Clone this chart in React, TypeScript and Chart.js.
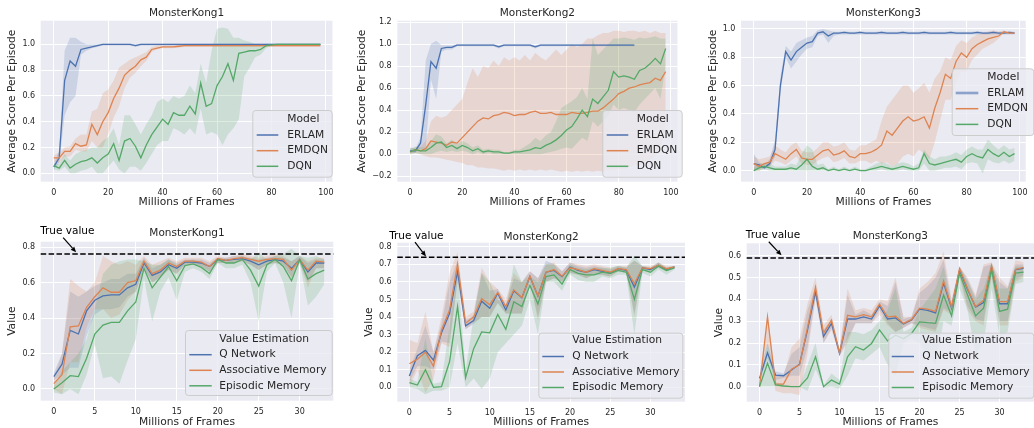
import { useEffect, useRef } from "react";
import { Chart, registerables } from "chart.js";

Chart.register(...registerables);

const FONT = "'DejaVu Sans', 'Liberation Sans', sans-serif";
const TEXT = "#262626";
const BLUE = "#4C72B0";
const ORANGE = "#DD8452";
const GREEN = "#55A868";
Chart.defaults.font.family = FONT;

// ---------------- data ----------------
const TOP_FRAMES = [0,2,4,6,8,10,12,14,16,18,20,22,24,26,28,30,32,34,36,38,40,42,44,46,48,50,52,54,56,58,60,62,64,66,68,70,72,74,76,78,80,82,84,86,88,90,92,94,96,98];
const BOTTOM_FRAMES = [0,1,2,3,4,5,6,7,8,9,10,11,12,13,14,15,16,17,18,19,20,21,22,23,24,25,26,27,28,29,30,31,32,33];
const TOP_X_TICKS = [0,20,40,60,80,100];
const BOTTOM_X_TICKS = [0,5,10,15,20,25,30];
const MK1_Y_TICKS = [0,0.2,0.4,0.6,0.8,1.0];
const MK2_Y_TICKS = [-0.2,0,0.2,0.4,0.6,0.8,1.0,1.2];
const MK3_Y_TICKS = [0,0.2,0.4,0.6,0.8,1.0];
const V1_Y_TICKS = [0,0.2,0.4,0.6,0.8];
const V2_Y_TICKS = [0,0.1,0.2,0.3,0.4,0.5,0.6,0.7,0.8];
const V3_Y_TICKS = [0,0.1,0.2,0.3,0.4,0.5,0.6];
const TRUE_VALUES = [0.76, 0.74, 0.59];
const MODELS = ["ERLAM", "EMDQN", "DQN"];
const ESTIMATORS = ["Q Network", "Associative Memory", "Episodic Memory"];

// MonsterKong1 (top)
const ERLAM1_MEAN = [0.05,0.12,0.72,0.87,0.83,0.96,0.97,0.98,0.99,1.0, 1.0,1.0,1.0,1.0,1.0,0.99,1.0,1.0,1.0,1.0, 1.0,1.0,1.0,1.0,1.0,1.0,1.0,1.0,1.0,1.0, 1.0,1.0,1.0,1.0,1.0,1.0,1.0,1.0,1.0,1.0, 1.0,1.0,1.0,1.0,1.0,1.0,1.0,1.0,1.0,1.0];
const ERLAM1_LO = [0.03,0.08,0.45,0.55,0.6,0.92,0.95,0.97,0.98,0.99, 0.99,0.99,0.99,0.99,0.99,0.98,0.99,0.99,0.99,0.99, 0.99,0.99,0.99,0.99,0.99,0.99,0.99,0.99,0.99,0.99, 0.99,0.99,0.99,0.99,0.99,0.99,0.99,0.99,0.99,0.99, 0.99,0.99,0.99,0.99,0.99,0.99,0.99,0.99,0.99,0.99];
const ERLAM1_HI = [0.07,0.18,0.95,1.05,1.05,1.02,1.0,1.0,1.0,1.005, 1.005,1.005,1.005,1.005,1.005,1.0,1.005,1.005,1.005,1.005, 1.005,1.005,1.005,1.005,1.005,1.005,1.005,1.005,1.005,1.005, 1.005,1.005,1.005,1.005,1.005,1.005,1.005,1.005,1.005,1.005, 1.005,1.005,1.005,1.005,1.005,1.005,1.005,1.005,1.005,1.005];
const EMDQN1_MEAN = [0.12,0.12,0.17,0.17,0.23,0.21,0.22,0.38,0.3,0.4, 0.47,0.58,0.66,0.76,0.8,0.83,0.88,0.9,0.96,0.97, 0.98,0.98,0.98,0.985,0.99,0.99,0.99,0.99,0.99,0.99, 0.99,0.99,0.99,0.99,0.99,0.99,0.99,0.99,0.99,0.99, 0.99,0.99,0.99,0.99,0.99,0.99,0.99,0.99,0.99,0.99];
const EMDQN1_LO = [0.09,0.08,0.13,0.13,0.18,0.17,0.17,0.25,0.2,0.2, 0.3,0.43,0.52,0.66,0.74,0.78,0.83,0.87,0.94,0.96, 0.97,0.97,0.97,0.975,0.98,0.98,0.98,0.98,0.98,0.98, 0.98,0.98,0.98,0.98,0.98,0.98,0.98,0.98,0.98,0.98, 0.98,0.98,0.98,0.98,0.98,0.98,0.98,0.98,0.98,0.98];
const EMDQN1_HI = [0.14,0.16,0.2,0.21,0.27,0.3,0.3,0.48,0.5,0.62, 0.65,0.72,0.82,0.85,0.88,0.9,0.92,0.94,0.98,0.99, 0.99,0.99,0.99,0.995,1.0,1.0,1.0,1.0,1.0,1.0, 1.0,1.0,1.0,1.0,1.0,1.0,1.0,1.0,1.0,1.0, 1.0,1.0,1.0,1.0,1.0,1.0,1.0,1.0,1.0,1.0];
const DQN1_MEAN = [0.06,0.04,0.1,0.04,0.07,0.09,0.1,0.12,0.08,0.12, 0.15,0.23,0.1,0.25,0.27,0.21,0.12,0.22,0.3,0.36, 0.42,0.38,0.47,0.45,0.45,0.52,0.46,0.7,0.52,0.54, 0.68,0.75,0.85,0.72,0.93,0.94,0.95,0.95,0.96,0.99, 0.995,1.0,1.0,1.0,1.0,1.0,1.0,1.0,1.0,1.0];
const DQN1_LO = [0.03,0.02,0.05,0.0,0.0,0.02,0.03,0.05,0.0,0.0, 0.05,0.1,0.03,0.0,0.05,0.05,0.02,0.08,0.15,0.22, 0.25,0.25,0.35,0.33,0.3,0.35,0.3,0.5,0.3,0.32, 0.3,0.22,0.3,0.35,0.42,0.75,0.82,0.9,0.92,0.97, 0.99,0.995,0.995,0.995,0.995,0.995,0.995,0.995,0.995,0.995];
const DQN1_HI = [0.08,0.07,0.15,0.1,0.15,0.17,0.18,0.2,0.2,0.25, 0.28,0.35,0.22,0.45,0.45,0.38,0.3,0.38,0.45,0.55, 0.58,0.55,0.6,0.58,0.6,0.68,0.62,0.85,0.7,0.95, 1.12,1.13,1.12,1.05,1.05,1.03,1.02,1.0,1.0,1.005, 1.005,1.005,1.005,1.005,1.005,1.005,1.005,1.005,1.005,1.005];

// MonsterKong2 (top)
const ERLAM2_MEAN = [0.03,0.03,0.1,0.45,0.84,0.78,0.96,0.97,0.97,0.99, 0.99,0.99,0.99,0.99,0.99,0.99,0.99,0.975,0.99,0.99, 0.99,0.99,0.99,0.99,0.975,0.99,0.99,0.99,0.99,0.99, 0.99,0.99,0.99,0.99,0.99,0.99,0.99,0.99,0.99,0.99, 0.99,0.99,0.99,0.99,null,null,null,null,null,null];
const ERLAM2_LO = [0.01,0.01,0.05,0.05,0.68,0.5,0.93,0.95,0.95,0.98, 0.98,0.98,0.98,0.98,0.98,0.98,0.98,0.96,0.98,0.98, 0.98,0.98,0.98,0.98,0.96,0.98,0.98,0.98,0.98,0.98, 0.98,0.98,0.98,0.98,0.98,0.98,0.98,0.98,0.98,0.98, 0.98,0.98,0.98,0.98,null,null,null,null,null,null];
const ERLAM2_HI = [0.06,0.05,0.15,0.85,1.0,1.03,0.99,0.99,0.99,1.0, 1.0,1.0,1.0,1.0,1.0,1.0,1.0,0.99,1.0,1.0, 1.0,1.0,1.0,1.0,0.99,1.0,1.0,1.0,1.0,1.0, 1.0,1.0,1.0,1.0,1.0,1.0,1.0,1.0,1.0,1.0, 1.0,1.0,1.0,1.0,null,null,null,null,null,null];
const EMDQN2_MEAN = [0.02,0.04,0.03,0.05,0.12,0.11,0.1,0.08,0.11,0.1, 0.15,0.2,0.25,0.3,0.33,0.32,0.35,0.36,0.38,0.37, 0.35,0.36,0.36,0.38,0.39,0.37,0.37,0.38,0.36,0.36, 0.36,0.38,0.37,0.37,0.38,0.39,0.39,0.42,0.46,0.5, 0.55,0.57,0.6,0.61,0.63,0.64,0.65,0.69,0.67,0.75];
const EMDQN2_LO = [0.0,0.01,0.0,-0.02,-0.03,-0.03,-0.04,-0.05,-0.06,-0.07, -0.08,-0.1,-0.1,-0.12,-0.12,-0.13,-0.13,-0.14,-0.15,-0.14, -0.15,-0.14,-0.15,-0.14,-0.15,-0.14,-0.15,-0.14,-0.15,-0.16, -0.15,-0.16,-0.15,-0.16,-0.15,-0.16,-0.15,-0.16,-0.14,-0.15, -0.13,-0.14,-0.12,-0.1,-0.1,-0.08,-0.05,-0.02,0.05,0.25];
const EMDQN2_HI = [0.05,0.06,0.07,0.12,0.3,0.35,0.33,0.35,0.4,0.45, 0.5,0.65,0.78,0.7,0.8,0.78,0.85,0.8,0.88,0.85, 0.88,0.85,0.9,0.85,0.92,0.88,0.85,0.9,0.95,0.9, 0.95,1.0,0.97,1.0,1.05,1.05,1.08,1.1,1.1,1.12, 1.12,1.11,1.12,1.12,1.11,1.12,1.1,1.12,1.1,1.1];
const DQN2_MEAN = [0.02,0.04,0.03,0.03,0.06,0.1,0.11,0.06,0.08,0.05, 0.08,0.06,0.03,0.05,0.02,0.03,0.02,0.02,0.01,0.01, 0.02,0.02,0.03,0.04,0.06,0.05,0.08,0.1,0.13,0.17, 0.22,0.25,0.32,0.4,0.34,0.5,0.46,0.52,0.58,0.75, 0.7,0.71,0.7,0.68,0.76,0.78,0.82,0.87,0.82,0.96];
const DQN2_LO = [0.0,0.01,0.0,0.0,0.0,0.02,0.03,0.02,0.03,0.02, 0.03,0.02,0.0,0.02,0.0,0.01,0.0,0.0,0.0,0.0, 0.0,0.0,0.0,0.0,0.0,0.0,0.01,0.02,0.03,0.05, 0.06,0.05,0.1,0.15,0.12,0.3,0.25,0.3,0.35,0.45, 0.4,0.42,0.4,0.38,0.45,0.5,0.55,0.6,0.5,0.8];
const DQN2_HI = [0.05,0.07,0.06,0.06,0.12,0.18,0.16,0.1,0.13,0.09, 0.12,0.1,0.06,0.08,0.04,0.05,0.04,0.04,0.02,0.02, 0.04,0.04,0.07,0.1,0.15,0.12,0.17,0.2,0.3,0.42, 0.45,0.48,0.52,0.6,0.5,1.05,0.9,0.95,1.0,1.05, 1.05,1.06,1.05,1.04,1.06,1.05,1.06,1.07,1.05,1.05];

// MonsterKong3 (top)
const ERLAM3_MEAN = [0.05,0.04,0.02,0.05,0.15,0.6,0.84,0.78,0.84,0.87, 0.9,0.91,0.97,0.98,0.95,0.97, 0.97,0.975,0.97,0.97,0.975,0.97,0.97,0.97,0.975,0.97, 0.97,0.97,0.975,0.97,0.97,0.97,0.975,0.97,0.97,0.97, 0.97,0.975,0.97,0.97,0.97,0.97,0.975,0.97,0.97,0.975, 0.97,0.97,0.975,0.97];
const ERLAM3_LO = [0.0,0.02,0.01,0.03,0.1,0.55,0.8,0.72,0.77,0.82, 0.86,0.87,0.95,0.96,0.9,0.95, 0.96,0.96,0.96,0.96,0.96,0.96,0.96,0.96,0.96,0.96, 0.96,0.96,0.96,0.96,0.96,0.96,0.96,0.96,0.96,0.96, 0.96,0.96,0.96,0.96,0.96,0.96,0.96,0.96,0.96,0.96, 0.96,0.96,0.96,0.96];
const ERLAM3_HI = [0.12,0.06,0.04,0.08,0.22,0.66,0.88,0.84,0.9,0.92, 0.94,0.95,0.99,1.0,0.99,0.98, 0.98,0.985,0.98,0.98,0.985,0.98,0.98,0.98,0.985,0.98, 0.98,0.98,0.985,0.98,0.98,0.98,0.985,0.98,0.98,0.98, 0.98,0.985,0.98,0.98,0.98,0.98,0.985,0.98,0.98,0.985, 0.98,0.98,0.985,0.98];
const EMDQN3_MEAN = [0.05,0.03,0.05,0.06,0.12,0.1,0.08,0.12,0.15,0.09, 0.08,0.08,0.11,0.14,0.15,0.11,0.12,0.14,0.1,0.09, 0.12,0.12,0.13,0.15,0.18,0.28,0.25,0.3,0.35,0.38, 0.35,0.36,0.38,0.3,0.44,0.55,0.68,0.65,0.77,0.83, 0.8,0.86,0.89,0.91,0.93,0.94,0.95,0.98,0.97,0.97];
const EMDQN3_LO = [0.0,0.0,0.02,0.03,0.07,0.06,0.04,0.07,0.1,0.05, 0.04,0.04,0.07,0.09,0.1,0.06,0.07,0.09,0.05,0.05, 0.07,0.07,0.05,0.07,0.05,0.06,0.03,0.05,0.1,0.12, 0.1,0.15,0.12,0.08,0.2,0.35,0.5,0.5,0.62,0.7, 0.7,0.78,0.82,0.86,0.88,0.9,0.93,0.97,0.965,0.965];
const EMDQN3_HI = [0.1,0.08,0.09,0.1,0.18,0.15,0.13,0.18,0.2,0.14, 0.13,0.13,0.16,0.2,0.2,0.17,0.18,0.2,0.15,0.14, 0.18,0.18,0.2,0.22,0.35,0.45,0.5,0.55,0.6,0.6, 0.55,0.58,0.62,0.55,0.65,0.7,0.8,0.78,0.88,0.92, 0.9,0.94,0.96,0.97,0.98,0.99,0.98,0.99,0.975,0.975];
const DQN3_MEAN = [0.0,0.02,0.03,0.02,0.01,0.01,0.01,0.02,0.01,0.04, 0.08,0.03,0.01,0.02,0.0,0.01,0.0,0.01,0.0,0.01, 0.0,0.0,0.01,0.02,0.03,0.02,0.01,0.02,0.03,0.02, 0.01,0.02,0.12,0.05,0.04,0.05,0.06,0.07,0.08,0.06, 0.1,0.12,0.1,0.09,0.15,0.12,0.1,0.13,0.1,0.12];
const DQN3_LO = [0.0,0.0,0.01,0.0,0.0,0.0,0.0,0.0,0.0,0.0, 0.0,0.0,0.0,0.0,0.0,0.0,0.0,0.0,0.0,0.0, 0.0,0.0,0.0,0.0,0.01,0.0,0.0,0.0,0.01,0.0, 0.0,0.0,0.05,0.0,0.0,0.01,0.02,0.02,0.03,0.01, 0.05,0.06,0.05,-0.02,0.08,0.06,0.05,0.07,0.05,0.07];
const DQN3_HI = [0.02,0.05,0.05,0.05,0.03,0.03,0.03,0.05,0.04,0.12, 0.18,0.15,0.04,0.05,0.01,0.03,0.01,0.03,0.01,0.03, 0.01,0.01,0.03,0.05,0.06,0.05,0.03,0.05,0.06,0.05, 0.03,0.05,0.15,0.1,0.08,0.1,0.1,0.11,0.13,0.11, 0.15,0.17,0.15,0.15,0.22,0.18,0.15,0.18,0.15,0.16];

// MonsterKong1 (bottom, value estimation)
const Q1_MEAN = [0.07,0.14,0.33,0.31,0.44,0.5,0.525,0.53,0.53,0.57,0.59,0.71,0.64,0.66,0.70,0.68,0.715,0.715,0.71,0.69,0.73,0.725,0.73,0.735,0.72,0.70,0.72,0.73,0.72,0.68,0.73,0.66,0.71,0.71];
const Q1_LO = [0.05,0.08,0.12,0.12,0.3,0.42,0.45,0.45,0.46,0.52,0.55,0.68,0.6,0.63,0.67,0.65,0.7,0.7,0.69,0.66,0.71,0.71,0.71,0.72,0.7,0.67,0.7,0.71,0.7,0.63,0.71,0.6,0.68,0.68];
const Q1_HI = [0.09,0.2,0.55,0.52,0.55,0.58,0.6,0.62,0.62,0.65,0.65,0.74,0.68,0.7,0.73,0.71,0.73,0.73,0.73,0.71,0.74,0.74,0.75,0.75,0.74,0.73,0.74,0.75,0.74,0.72,0.75,0.71,0.73,0.73];
const AM1_MEAN = [0.03,0.08,0.35,0.355,0.46,0.52,0.57,0.545,0.545,0.6,0.61,0.72,0.65,0.67,0.71,0.69,0.72,0.72,0.715,0.69,0.735,0.725,0.735,0.74,0.73,0.72,0.73,0.735,0.73,0.67,0.73,0.67,0.72,0.715];
const AM1_LO = [0.0,-0.03,0.15,0.15,0.35,0.45,0.45,0.4,0.42,0.5,0.55,0.68,0.6,0.63,0.67,0.65,0.7,0.7,0.69,0.66,0.71,0.71,0.71,0.72,0.7,0.67,0.7,0.71,0.7,0.62,0.71,0.57,0.68,0.68];
const AM1_HI = [0.06,0.2,0.62,0.58,0.55,0.6,0.75,0.72,0.7,0.72,0.7,0.75,0.7,0.72,0.74,0.72,0.74,0.74,0.74,0.72,0.75,0.74,0.75,0.76,0.75,0.74,0.75,0.76,0.75,0.72,0.75,0.72,0.74,0.74];
const EM1_MEAN = [0.0,0.035,0.075,0.07,0.173,0.31,0.36,0.375,0.375,0.44,0.49,0.68,0.57,0.63,0.69,0.61,0.695,0.705,0.685,0.65,0.73,0.71,0.71,0.73,0.67,0.58,0.70,0.73,0.69,0.61,0.73,0.62,0.65,0.67];
const EM1_LO = [-0.02,-0.03,0.0,-0.03,0.08,0.25,0.06,0.07,0.03,0.16,0.28,0.62,0.38,0.55,0.63,0.5,0.66,0.68,0.66,0.62,0.71,0.68,0.68,0.7,0.6,0.38,0.66,0.71,0.6,0.4,0.71,0.47,0.52,0.59];
const EM1_HI = [0.02,0.1,0.15,0.2,0.28,0.45,0.65,0.7,0.72,0.73,0.73,0.72,0.7,0.7,0.73,0.7,0.72,0.73,0.71,0.68,0.74,0.73,0.73,0.75,0.73,0.77,0.73,0.75,0.76,0.79,0.75,0.74,0.75,0.73];

// MonsterKong2 (bottom)
const Q2_MEAN = [0.064,0.18,0.21,0.155,0.31,0.42,0.66,0.35,0.38,0.49,0.45,0.535,0.44,0.55,0.51,0.63,0.52,0.655,0.665,0.63,0.685,0.665,0.655,0.67,0.66,0.65,0.675,0.665,0.57,0.68,0.67,0.695,0.67,0.685];
const Q2_LO = [0.03,0.12,0.12,0.1,0.26,0.25,0.6,0.33,0.36,0.4,0.4,0.48,0.42,0.42,0.42,0.6,0.4,0.6,0.62,0.6,0.65,0.64,0.62,0.64,0.64,0.63,0.66,0.65,0.42,0.67,0.66,0.68,0.66,0.68];
const Q2_HI = [0.1,0.22,0.35,0.2,0.36,0.6,0.72,0.38,0.41,0.65,0.55,0.56,0.47,0.62,0.6,0.66,0.62,0.72,0.7,0.66,0.71,0.69,0.68,0.69,0.68,0.67,0.69,0.68,0.72,0.69,0.68,0.71,0.68,0.69];
const AM2_MEAN = [0.134,0.16,0.2,0.12,0.325,0.44,0.70,0.365,0.40,0.505,0.47,0.54,0.46,0.555,0.51,0.633,0.52,0.655,0.67,0.633,0.68,0.67,0.655,0.675,0.665,0.655,0.675,0.67,0.59,0.68,0.675,0.695,0.675,0.685];
const AM2_LO = [0.0,0.1,-0.03,0.05,0.25,0.23,0.62,0.33,0.37,0.4,0.4,0.48,0.42,0.42,0.42,0.6,0.38,0.6,0.62,0.6,0.65,0.64,0.62,0.64,0.64,0.63,0.66,0.65,0.4,0.67,0.66,0.68,0.66,0.68];
const AM2_HI = [0.27,0.25,0.43,0.2,0.4,0.65,0.77,0.4,0.43,0.68,0.6,0.56,0.5,0.65,0.6,0.66,0.62,0.7,0.71,0.66,0.71,0.7,0.69,0.7,0.69,0.68,0.69,0.69,0.72,0.69,0.69,0.71,0.69,0.69];
const EM2_MEAN = [0.026,0.013,0.1,0.0,0.004,0.145,0.46,0.055,0.22,0.315,0.31,0.415,0.33,0.487,0.46,0.58,0.474,0.63,0.64,0.587,0.67,0.648,0.64,0.64,0.655,0.648,0.665,0.655,0.5,0.67,0.655,0.69,0.665,0.68];
const EM2_LO = [0.0,-0.01,-0.04,-0.02,-0.02,0.0,0.25,0.0,0.05,-0.01,0.05,0.2,0.25,0.3,0.35,0.5,0.3,0.6,0.6,0.55,0.64,0.61,0.6,0.6,0.63,0.62,0.64,0.64,0.3,0.65,0.63,0.67,0.64,0.67];
const EM2_HI = [0.05,0.03,0.28,0.02,0.03,0.35,0.65,0.1,0.4,0.65,0.6,0.5,0.45,0.7,0.6,0.63,0.6,0.7,0.7,0.63,0.7,0.68,0.67,0.68,0.68,0.68,0.69,0.68,0.75,0.69,0.68,0.71,0.68,0.69];

// MonsterKong3 (bottom)
const Q3_MEAN = [0.038,0.155,0.053,0.05,0.076,0.103,0.26,0.435,0.23,0.29,0.153,0.31,0.31,0.32,0.31,0.37,0.31,0.315,0.287,0.305,0.355,0.35,0.338,0.475,0.36,0.534,0.445,0.365,0.385,0.547,0.38,0.38,0.537,0.542];
const Q3_LO = [0.02,0.13,0.03,0.04,0.05,0.05,0.18,0.41,0.2,0.27,0.14,0.22,0.29,0.29,0.29,0.35,0.29,0.25,0.27,0.29,0.28,0.27,0.26,0.36,0.34,0.51,0.37,0.31,0.3,0.51,0.3,0.3,0.49,0.51];
const Q3_HI = [0.06,0.2,0.07,0.06,0.15,0.18,0.35,0.46,0.26,0.31,0.17,0.42,0.33,0.35,0.33,0.39,0.37,0.48,0.31,0.32,0.43,0.46,0.5,0.58,0.39,0.55,0.49,0.41,0.55,0.56,0.48,0.45,0.56,0.56];
const AM3_MEAN = [0.0,0.32,0.012,0.012,0.08,0.1,0.27,0.455,0.245,0.305,0.155,0.327,0.32,0.33,0.32,0.378,0.32,0.323,0.29,0.308,0.36,0.355,0.345,0.485,0.366,0.542,0.45,0.366,0.396,0.553,0.39,0.39,0.537,0.547];
const AM3_LO = [0.0,0.2,-0.02,-0.03,-0.03,-0.04,0.15,0.4,0.2,0.26,0.14,0.2,0.29,0.29,0.29,0.33,0.28,0.25,0.27,0.29,0.27,0.26,0.25,0.35,0.33,0.5,0.35,0.3,0.28,0.5,0.28,0.28,0.48,0.5];
const AM3_HI = [0.0,0.33,0.05,0.05,0.18,0.22,0.38,0.5,0.28,0.33,0.17,0.45,0.35,0.36,0.35,0.4,0.39,0.5,0.32,0.32,0.45,0.48,0.52,0.62,0.4,0.55,0.5,0.42,0.56,0.57,0.5,0.46,0.58,0.57];
const EM3_MEAN = [0.0,0.107,0.008,0.003,0.0,0.0,0.04,0.137,0.0,0.03,0.012,0.137,0.183,0.168,0.198,0.26,0.21,0.236,0.22,0.244,0.297,0.293,0.29,0.42,0.324,0.52,0.42,0.324,0.36,0.535,0.345,0.355,0.52,0.525];
const EM3_LO = [0.0,0.0,0.0,0.0,0.0,0.0,-0.02,0.08,-0.005,0.0,-0.01,0.05,0.13,0.12,0.15,0.18,0.1,0.05,0.2,0.22,0.2,0.15,0.1,0.3,0.28,0.45,0.35,0.15,0.2,0.45,0.23,0.25,0.47,0.48];
const EM3_HI = [0.0,0.2,0.02,0.01,0.0,0.0,0.1,0.2,0.005,0.06,0.03,0.25,0.25,0.24,0.26,0.3,0.35,0.45,0.25,0.27,0.35,0.4,0.45,0.55,0.36,0.55,0.48,0.4,0.45,0.57,0.45,0.45,0.55,0.55];

// ---------------- panel layout ----------------
type Series = { label: string; color: string; mean: (number | null)[]; lo: (number | null)[]; hi: (number | null)[] };
type LegendSpec = { title: string; box: number[]; handle: number[]; textX: number; titleY: number; rows: number[]; handleWidths?: number[]; handleAlpha?: number[] };
type Annot = { text: number[]; tail: number[]; tip: number[] };
type PanelSpec = {
  title: string; frames: number[]; xTicks: number[]; yTicks: number[];
  xRange: number[]; yRange: number[]; yLabel: string; series: Series[];
  canvas: number[]; area: number[]; titlePad: number[]; yTitlePad: number; xTitlePad: number;
  legend: LegendSpec; trueValue?: number; annot?: Annot;
};

const top3 = (a: string, b: string, c: string) => [a, b, c];
const COLORS = top3(BLUE, ORANGE, GREEN);
const mk = (labels: string[], m: any[][]): Series[] =>
  labels.map((label, i) => ({ label, color: COLORS[i], mean: m[i][0], lo: m[i][1], hi: m[i][2] }));

const TOP_LEGEND_ROWS = [135, 150.7, 166.3];
const BOT_LEGEND_ROWS_1 = [142.7, 158.3, 173.8];
const BOT_LEGEND_ROWS_2 = [144.5, 160, 175.5];

const PANELS: PanelSpec[] = [
  {
    title: "MonsterKong1", frames: TOP_FRAMES, xTicks: TOP_X_TICKS, yTicks: MK1_Y_TICKS,
    xRange: [-4.8, 102.4], yRange: [-0.065, 1.183], yLabel: "Average Score Per Episode",
    series: mk(MODELS, [[ERLAM1_MEAN, ERLAM1_LO, ERLAM1_HI], [EMDQN1_MEAN, EMDQN1_LO, EMDQN1_HI], [DQN1_MEAN, DQN1_LO, DQN1_HI]]),
    canvas: [0, 0, 340, 212], area: [40.7, 333.3, 181.7], titlePad: [8.05, 2.15], yTitlePad: 7.35, xTitlePad: 3.95,
    legend: { title: "Model", box: [252.3, 110, 79.4, 66.7], handle: [256.7, 278.3], textX: 287.3, titleY: 119.3, rows: TOP_LEGEND_ROWS },
  },
  {
    title: "MonsterKong2", frames: TOP_FRAMES, xTicks: TOP_X_TICKS, yTicks: MK2_Y_TICKS,
    xRange: [-4.9, 102.5], yRange: [-0.25, 1.212], yLabel: "Average Score Per Episode",
    series: mk(MODELS, [[ERLAM2_MEAN, ERLAM2_LO, ERLAM2_HI], [EMDQN2_MEAN, EMDQN2_LO, EMDQN2_HI], [DQN2_MEAN, DQN2_LO, DQN2_HI]]),
    canvas: [340, 0, 345, 212], area: [57.3, 343.4, 181.7], titlePad: [8.05, 2.15], yTitlePad: 17.35, xTitlePad: 3.95,
    legend: { title: "Model", box: [262.3, 110, 79.4, 66.7], handle: [266.7, 288.3], textX: 296.7, titleY: 119.3, rows: TOP_LEGEND_ROWS },
  },
  {
    title: "MonsterKong3", frames: TOP_FRAMES, xTicks: TOP_X_TICKS, yTicks: MK3_Y_TICKS,
    xRange: [-4.8, 102.2], yRange: [-0.078, 1.058], yLabel: "Average Score Per Episode",
    series: mk(MODELS, [[ERLAM3_MEAN, ERLAM3_LO, ERLAM3_HI], [EMDQN3_MEAN, EMDQN3_LO, EMDQN3_HI], [DQN3_MEAN, DQN3_LO, DQN3_HI]]),
    canvas: [685, 0, 349, 212], area: [56, 349, 181.7], titlePad: [8.05, 2.15], yTitlePad: 22.95, xTitlePad: 3.95,
    legend: { title: "Model", box: [266.7, 68.3, 81.6, 66.7], handle: [270.7, 293.3], textX: 302.3, titleY: 77.3, rows: [93, 108.7, 124.4], handleWidths: [2.6, 1.5, 1.5], handleAlpha: [0.6, 1, 1] },
  },
  {
    title: "MonsterKong1", frames: BOTTOM_FRAMES, xTicks: BOTTOM_X_TICKS, yTicks: V1_Y_TICKS,
    xRange: [-1.6, 34.1], yRange: [-0.066, 0.83], yLabel: "Value",
    series: mk(ESTIMATORS, [[Q1_MEAN, Q1_LO, Q1_HI], [AM1_MEAN, AM1_LO, AM1_HI], [EM1_MEAN, EM1_LO, EM1_HI]]),
    canvas: [0, 212, 340, 216], area: [40.7, 333.3, 188.7], titlePad: [16.05, 3.15], yTitlePad: 7.35, xTitlePad: 0.65,
    legend: { title: "Value Estimation", box: [185, 118, 146.7, 65], handle: [189.3, 211.7], textX: 219.3, titleY: 127, rows: BOT_LEGEND_ROWS_1 },
    trueValue: TRUE_VALUES[0], annot: { text: [-1.67, 0.887], tail: [1.14, 0.853], tip: [2.72, 0.77] },
  },
  {
    title: "MonsterKong2", frames: BOTTOM_FRAMES, xTicks: BOTTOM_X_TICKS, yTicks: V2_Y_TICKS,
    xRange: [-1.5, 34.3], yRange: [-0.082, 0.823], yLabel: "Value",
    series: mk(ESTIMATORS, [[Q2_MEAN, Q2_LO, Q2_HI], [AM2_MEAN, AM2_LO, AM2_HI], [EM2_MEAN, EM2_LO, EM2_HI]]),
    canvas: [340, 212, 345, 216], area: [57.3, 346.7 > 345 ? 345 : 346.7, 189.7], titlePad: [20.05, 0.15], yTitlePad: 23.95, xTitlePad: 0.65,
    legend: { title: "Value Estimation", box: [198.3, 120.7, 144, 65], handle: [202.3, 224], textX: 232.3, titleY: 128.7, rows: BOT_LEGEND_ROWS_2 },
    trueValue: TRUE_VALUES[1], annot: { text: [-2.51, 0.862], tail: [0.7, 0.826], tip: [2.07, 0.745] },
  },
  {
    title: "MonsterKong3", frames: BOTTOM_FRAMES, xTicks: BOTTOM_X_TICKS, yTicks: V3_Y_TICKS,
    xRange: [-1.6, 34.3], yRange: [-0.069, 0.657], yLabel: "Value",
    series: mk(ESTIMATORS, [[Q3_MEAN, Q3_LO, Q3_HI], [AM3_MEAN, AM3_LO, AM3_HI], [EM3_MEAN, EM3_LO, EM3_HI]]),
    canvas: [685, 212, 349, 216], area: [61.7, 349, 189.7], titlePad: [19.45, 1.35], yTitlePad: 28.95, xTitlePad: 0.65,
    legend: { title: "Value Estimation", box: [203.3, 120.7, 145, 65], handle: [206.7, 229], textX: 237.3, titleY: 128.7, rows: BOT_LEGEND_ROWS_2 },
    trueValue: TRUE_VALUES[2], annot: { text: [-1.71, 0.692], tail: [1.16, 0.664], tip: [2.75, 0.602] },
  },
];

// ---------------- helpers ----------------
function rgba(hex: string, a: number) {
  const n = parseInt(hex.slice(1), 16);
  return `rgba(${(n >> 16) & 255},${(n >> 8) & 255},${n & 255},${a})`;
}
function fmtY(v: number) {
  if (Math.abs(v) < 1e-9) return "0.0";
  return v < 0 ? "\u2212" + (-v).toFixed(1) : v.toFixed(1);
}

function decorPlugin(spec: PanelSpec) {
  return {
    id: "decor",
    beforeDraw(chart: any) {
      const { ctx, chartArea: a } = chart;
      ctx.save();
      ctx.fillStyle = "#EAEAF2";
      ctx.fillRect(a.left, a.top, a.right - a.left, a.bottom - a.top);
      ctx.restore();
    },
    afterDatasetsDraw(chart: any) {
      if (spec.trueValue == null) return;
      const { ctx, chartArea: a, scales } = chart;
      const py = scales.y.getPixelForValue(spec.trueValue);
      ctx.save();
      ctx.strokeStyle = "#000";
      ctx.lineWidth = 1.5;
      ctx.setLineDash([5.5, 2.4]);
      ctx.beginPath();
      ctx.moveTo(a.left, py);
      ctx.lineTo(a.right, py);
      ctx.stroke();
      ctx.restore();
    },
    afterDraw(chart: any) {
      const { ctx, scales } = chart;
      const lg = spec.legend;
      ctx.save();
      // legend frame
      ctx.beginPath();
      if (ctx.roundRect) ctx.roundRect(lg.box[0] + 0.5, lg.box[1] + 0.5, lg.box[2], lg.box[3], 3);
      else ctx.rect(lg.box[0] + 0.5, lg.box[1] + 0.5, lg.box[2], lg.box[3]);
      ctx.fillStyle = "rgba(234,234,242,0.8)";
      ctx.fill();
      ctx.strokeStyle = "#CCCCCC";
      ctx.lineWidth = 1;
      ctx.stroke();
      ctx.font = `10.7px ${FONT}`;
      ctx.fillStyle = TEXT;
      ctx.textBaseline = "middle";
      ctx.textAlign = "left";
      ctx.fillText(lg.title, lg.textX, lg.titleY);
      const lines = chart.data.datasets.filter((d: any) => !d.isBand);
      const sorted = [...lines].sort((p: any, q: any) => p.seriesIndex - q.seriesIndex);
      sorted.forEach((d: any, i: number) => {
        const y = lg.rows[i];
        ctx.save();
        ctx.globalAlpha = lg.handleAlpha ? lg.handleAlpha[i] : 1;
        ctx.strokeStyle = d.borderColor;
        ctx.lineWidth = lg.handleWidths ? lg.handleWidths[i] : 1.5;
        ctx.beginPath();
        ctx.moveTo(lg.handle[0], y);
        ctx.lineTo(lg.handle[1], y);
        ctx.stroke();
        ctx.restore();
        ctx.fillStyle = TEXT;
        ctx.fillText(d.label, lg.textX, y);
      });
      // annotation
      if (spec.annot) {
        const an = spec.annot;
        const xs = scales.x, ys = scales.y;
        ctx.fillStyle = "#000";
        ctx.font = `10.5px ${FONT}`;
        ctx.fillText("True value", xs.getPixelForValue(an.text[0]), ys.getPixelForValue(an.text[1]));
        const x1 = xs.getPixelForValue(an.tail[0]), y1 = ys.getPixelForValue(an.tail[1]);
        const x2 = xs.getPixelForValue(an.tip[0]), y2 = ys.getPixelForValue(an.tip[1]);
        const ang = Math.atan2(y2 - y1, x2 - x1);
        const hl = 5.5, hw = 2.4;
        const bx = x2 - hl * Math.cos(ang), by = y2 - hl * Math.sin(ang);
        ctx.strokeStyle = "#000";
        ctx.lineWidth = 1.2;
        ctx.beginPath();
        ctx.moveTo(x1, y1);
        ctx.lineTo(bx, by);
        ctx.stroke();
        ctx.beginPath();
        ctx.moveTo(x2, y2);
        ctx.lineTo(bx + hw * Math.sin(ang), by - hw * Math.cos(ang));
        ctx.lineTo(bx - hw * Math.sin(ang), by + hw * Math.cos(ang));
        ctx.closePath();
        ctx.fill();
      }
      ctx.restore();
    },
  };
}

function buildConfig(spec: PanelSpec): any {
  const [, , cw, ch] = spec.canvas;
  const [aLeft, aRight, aBottom] = spec.area;
  const pts = (arr: (number | null)[]) => spec.frames.map((x, i) => ({ x, y: arr[i] }));
  const bands: any[] = [];
  const lines: any[] = [];
  spec.series.forEach((s, i) => {
    bands.push({
      label: s.label + " hi", data: pts(s.hi), isBand: true, order: 20 - i,
      borderWidth: 0, borderColor: "rgba(0,0,0,0)", backgroundColor: rgba(s.color, 0.2),
      fill: "+1", pointRadius: 0, pointHoverRadius: 0, spanGaps: false,
    });
    bands.push({
      label: s.label + " lo", data: pts(s.lo), isBand: true, order: 20 - i,
      borderWidth: 0, borderColor: "rgba(0,0,0,0)", backgroundColor: "rgba(0,0,0,0)",
      fill: false, pointRadius: 0, pointHoverRadius: 0, spanGaps: false,
    });
  });
  spec.series.forEach((s, i) => {
    lines.push({
      label: s.label, data: pts(s.mean), seriesIndex: i, order: 10 - i,
      borderColor: s.color, borderWidth: 1.3, fill: false, pointRadius: 0, pointHoverRadius: 0,
      tension: 0, spanGaps: false,
    });
  });
  const tickFont = { family: FONT, size: 8 };
  const labelFont = { family: FONT, size: 10.7, lineHeight: 1 };
  return {
    type: "line",
    data: { datasets: [...bands, ...lines] },
    options: {
      animation: false,
      responsive: false,
      devicePixelRatio: 1,
      events: [],
      layout: { padding: { left: 0, top: 0, bottom: 0, right: cw - aRight } },
      plugins: {
        legend: { display: false },
        tooltip: { enabled: false },
        filler: { drawTime: "beforeDatasetsDraw", propagate: false },
        title: {
          display: true, text: spec.title, color: TEXT, fullSize: false,
          font: { family: FONT, size: 10.5, weight: "normal", lineHeight: 1 },
          padding: { top: spec.titlePad[0], bottom: spec.titlePad[1] },
        },
      },
      scales: {
        x: {
          type: "linear", min: spec.xRange[0], max: spec.xRange[1],
          afterBuildTicks: (sc: any) => { sc.ticks = spec.xTicks.map((v) => ({ value: v })); },
          afterFit: (sc: any) => { sc.height = ch - aBottom; },
          grid: { color: "#FFFFFF", lineWidth: 1, drawTicks: false },
          border: { display: false },
          ticks: { color: TEXT, font: tickFont, padding: 6.3, maxRotation: 0, autoSkip: false, callback: (v: any) => String(Math.round(Number(v))) },
          title: { display: true, text: "Millions of Frames", color: TEXT, font: labelFont, padding: { top: 0, bottom: spec.xTitlePad } },
        },
        y: {
          type: "linear", min: spec.yRange[0], max: spec.yRange[1],
          afterBuildTicks: (sc: any) => { sc.ticks = spec.yTicks.map((v) => ({ value: v })); },
          afterFit: (sc: any) => { sc.width = aLeft; },
          grid: { color: "#FFFFFF", lineWidth: 1, drawTicks: false },
          border: { display: false },
          ticks: { color: TEXT, font: tickFont, padding: 5.6, autoSkip: false, callback: (v: any) => fmtY(Number(v)) },
          title: { display: true, text: spec.yLabel, color: TEXT, font: labelFont, padding: { top: spec.yTitlePad, bottom: 0 } },
        },
      },
    },
    plugins: [decorPlugin(spec)],
  };
}

function Panel({ spec }: { spec: PanelSpec }) {
  const ref = useRef<HTMLCanvasElement>(null);
  useEffect(() => {
    const chart = new Chart(ref.current as HTMLCanvasElement, buildConfig(spec));
    return () => chart.destroy();
  }, [spec]);
  const [l, t, w, h] = spec.canvas;
  return (
    <canvas
      ref={ref}
      width={w}
      height={h}
      style={{ position: "absolute", left: l, top: t, width: w, height: h, display: "block" }}
    />
  );
}

export default function App() {
  return (
    <div style={{ position: "absolute", left: 0, top: 0, width: 1034, height: 428, background: "#FFFFFF", overflow: "hidden" }}>
      {PANELS.map((p, i) => (
        <Panel key={i} spec={p} />
      ))}
    </div>
  );
}
